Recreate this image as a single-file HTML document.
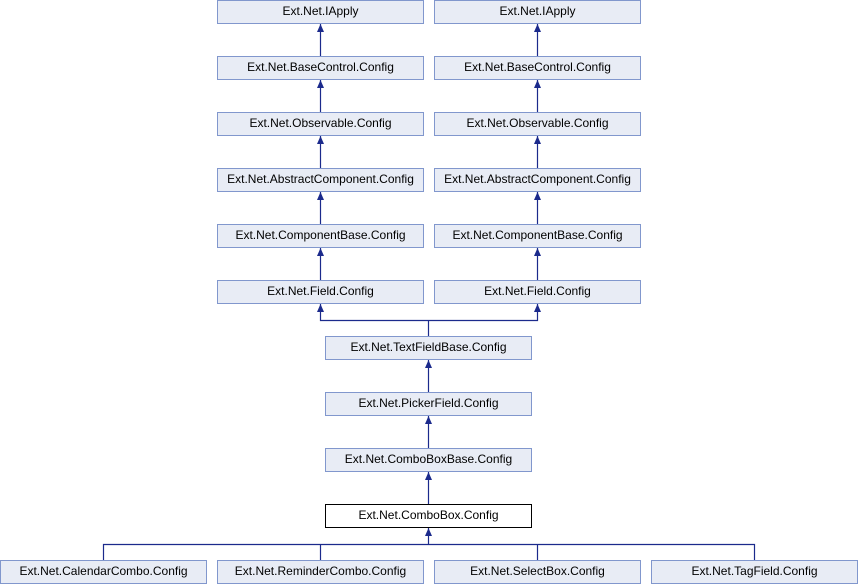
<!DOCTYPE html>
<html><head><style>body{margin:0;background:#fff}svg{display:block}text{font-family:"Liberation Sans",sans-serif;font-size:12px;fill:#000}</style></head>
<body>
<svg width="858" height="584" viewBox="0 0 858 584" xmlns="http://www.w3.org/2000/svg">
<g stroke="#1b2a8c" stroke-width="1.2" fill="none">
<path d="M320.5 24V56M320.5 80V112M320.5 136V168M320.5 192V224M320.5 248V280"/>
<path d="M537.5 24V56M537.5 80V112M537.5 136V168M537.5 192V224M537.5 248V280"/>
<path d="M320.5 304V320.5H537.5V304M428.5 320V336"/>
<path d="M428.5 360V392M428.5 416V448M428.5 472V504"/>
<path d="M428.5 528V544.5M103.5 560V544.5H754.5V560M320.5 544V560M537.5 544V560"/>
</g>
<g fill="#1b2a8c">
<path d="M320.5 24l-3.5 8h7zM320.5 80l-3.5 8h7zM320.5 136l-3.5 8h7zM320.5 192l-3.5 8h7zM320.5 248l-3.5 8h7zM320.5 304l-3.5 8h7z"/>
<path d="M537.5 24l-3.5 8h7zM537.5 80l-3.5 8h7zM537.5 136l-3.5 8h7zM537.5 192l-3.5 8h7zM537.5 248l-3.5 8h7zM537.5 304l-3.5 8h7z"/>
<path d="M428.5 360l-3.5 8h7zM428.5 416l-3.5 8h7zM428.5 472l-3.5 8h7zM428.5 528l-3.5 8h7z"/>
</g>
<g fill="#e8ecf5" stroke="#8197cd" stroke-width="1">
<rect x="217.5" y="0.5" width="206" height="23"/><rect x="434.5" y="0.5" width="206" height="23"/>
<rect x="217.5" y="56.5" width="206" height="23"/><rect x="434.5" y="56.5" width="206" height="23"/>
<rect x="217.5" y="112.5" width="206" height="23"/><rect x="434.5" y="112.5" width="206" height="23"/>
<rect x="217.5" y="168.5" width="206" height="23"/><rect x="434.5" y="168.5" width="206" height="23"/>
<rect x="217.5" y="224.5" width="206" height="23"/><rect x="434.5" y="224.5" width="206" height="23"/>
<rect x="217.5" y="280.5" width="206" height="23"/><rect x="434.5" y="280.5" width="206" height="23"/>
<rect x="325.5" y="336.5" width="206" height="23"/>
<rect x="325.5" y="392.5" width="206" height="23"/>
<rect x="325.5" y="448.5" width="206" height="23"/>
<rect x="0.5" y="560.5" width="206" height="23"/><rect x="217.5" y="560.5" width="206" height="23"/>
<rect x="434.5" y="560.5" width="206" height="23"/><rect x="651.5" y="560.5" width="206" height="23"/>
</g>
<rect x="325.5" y="504.5" width="206" height="23" fill="#fff" stroke="#000"/>
<g text-anchor="middle">
<text x="320.5" y="15">Ext.Net.IApply</text><text x="537.5" y="15">Ext.Net.IApply</text>
<text x="320.5" y="71">Ext.Net.BaseControl.Config</text><text x="537.5" y="71">Ext.Net.BaseControl.Config</text>
<text x="320.5" y="127">Ext.Net.Observable.Config</text><text x="537.5" y="127">Ext.Net.Observable.Config</text>
<text x="320.5" y="183">Ext.Net.AbstractComponent.Config</text><text x="537.5" y="183">Ext.Net.AbstractComponent.Config</text>
<text x="320.5" y="239">Ext.Net.ComponentBase.Config</text><text x="537.5" y="239">Ext.Net.ComponentBase.Config</text>
<text x="320.5" y="295">Ext.Net.Field.Config</text><text x="537.5" y="295">Ext.Net.Field.Config</text>
<text x="428.5" y="351">Ext.Net.TextFieldBase.Config</text>
<text x="428.5" y="407">Ext.Net.PickerField.Config</text>
<text x="428.5" y="463">Ext.Net.ComboBoxBase.Config</text>
<text x="428.5" y="519">Ext.Net.ComboBox.Config</text>
<text x="103.5" y="575">Ext.Net.CalendarCombo.Config</text>
<text x="320.5" y="575">Ext.Net.ReminderCombo.Config</text>
<text x="537.5" y="575">Ext.Net.SelectBox.Config</text>
<text x="754.5" y="575">Ext.Net.TagField.Config</text>
</g>
</svg>
</body></html>
